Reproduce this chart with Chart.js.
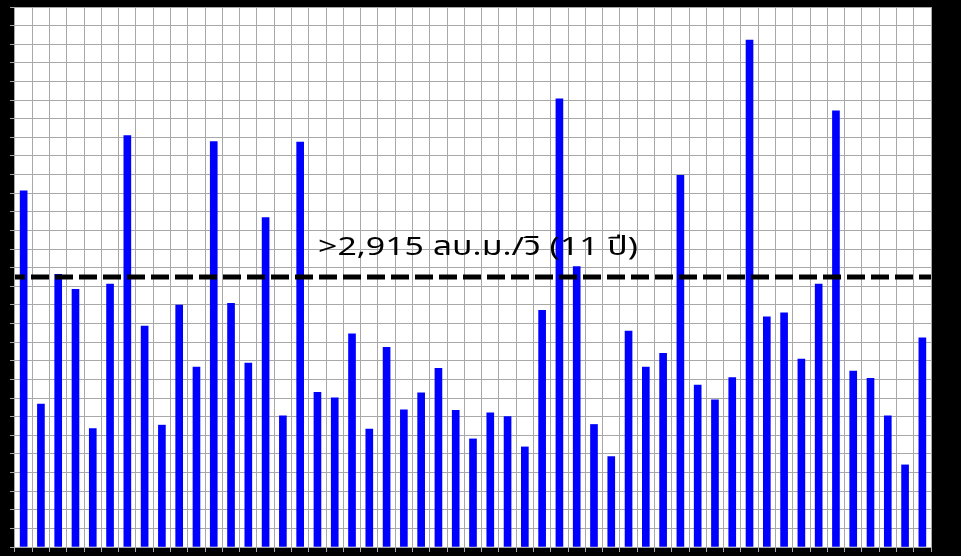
<!DOCTYPE html>
<html>
<head>
<meta charset="utf-8">
<script src="https://cdn.jsdelivr.net/npm/chart.js@4/dist/chart.umd.min.js"></script>
<style>
  html, body { margin: 0; padding: 0; background: #000; }
  #wrap { width: 961px; height: 556px; position: relative; background: #000; }
</style>
</head>
<body>
<div id="wrap"><canvas id="c"></canvas></div>
<script>
const categories = ["1","2","3","4","5","6","7","8","9","10","11","12","13","14","15","16","17","18","19","20","21","22","23","24","25","26","27","28","29","30","31","32","33","34","35","36","37","38","39","40","41","42","43","44","45","46","47","48","49","50","51","52","53"];
const flowValues = [3825,1534,2929,2768,1273,2825,4420,2373,1309,2599,1932,4355,2617,1975,3538,1409,4348,1660,1602,2290,1266,2144,1473,1656,1918,1467,1161,1441,1402,1075,2542,4814,3011,1316,972,2319,1932,2080,3993,1739,1581,1821,5445,2473,2516,2018,2825,4685,1889,1811,1409,882,2247];
const thresholdValue = 2900;
const thresholdLabel = ">2,915 ลบ.ม./วิ (11 ปี)";
const yMin = 0, yMax = 5800, yStep = 200;

const plotBg = {
  id: 'plotBg',
  beforeDraw(chart) {
    const {ctx, chartArea: a} = chart;
    ctx.save();
    ctx.fillStyle = '#ffffff';
    ctx.fillRect(a.left, a.top, a.right - a.left, a.bottom - a.top);
    ctx.restore();
  }
};

const threshold = {
  id: 'threshold',
  afterDatasetsDraw(chart) {
    const {ctx, chartArea: a, scales: {y}} = chart;
    const py = y.getPixelForValue(thresholdValue);
    ctx.save();
    ctx.beginPath();
    ctx.rect(a.left, a.top, a.right - a.left, a.bottom - a.top);
    ctx.clip();
    ctx.strokeStyle = '#000';
    ctx.lineWidth = 5;
    ctx.setLineDash([18, 6]);
    ctx.lineDashOffset = 8;
    ctx.beginPath();
    ctx.moveTo(a.left, py);
    ctx.lineTo(a.right, py);
    ctx.stroke();
    ctx.restore();
    ctx.save();
    ctx.fillStyle = '#000';
    ctx.font = '26px "Noto Sans", "Noto Sans Thai", sans-serif';
    ctx.textBaseline = 'alphabetic';
    ctx.textAlign = 'left';
    const w = ctx.measureText(thresholdLabel).width;
    const sx = 320 / w;
    ctx.translate(318, py - 22);
    ctx.scale(sx, 1);
    ctx.fillText(thresholdLabel, 0, 0);
    ctx.restore();
  }
};

new Chart(document.getElementById('c'), {
  type: 'bar',
  data: {
    labels: categories,
    datasets: [{
      data: flowValues,
      backgroundColor: '#0000ff',
      borderWidth: 0,
      barThickness: 7
    }]
  },
  options: {
    responsive: true,
    maintainAspectRatio: false,
    animation: false,
    layout: { padding: { left: 10, top: 7, right: 30, bottom: 4 } },
    plugins: { legend: { display: false }, tooltip: { enabled: false } },
    scales: {
      x: {
        grid: { color: '#a8a8a8', lineWidth: 1, offset: true, tickLength: 5, tickColor: '#a8a8a8' },
        border: { display: false },
        ticks: { display: false }
      },
      y: {
        min: yMin, max: yMax,
        ticks: { display: false, stepSize: yStep },
        grid: { color: '#a8a8a8', lineWidth: 1, tickLength: 5, tickColor: '#a8a8a8' },
        border: { display: false }
      }
    }
  },
  plugins: [plotBg, threshold]
});
</script>
</body>
</html>
